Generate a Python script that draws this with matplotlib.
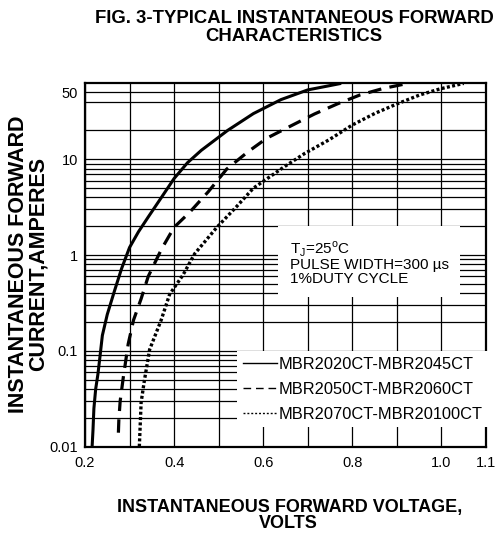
import matplotlib
matplotlib.use('Agg')
import matplotlib.pyplot as plt
from matplotlib.lines import Line2D
from matplotlib.ticker import FixedLocator, NullFormatter

plt.rcParams['font.family'] = ['Liberation Sans', 'DejaVu Sans']
plt.rcParams['mathtext.fontset'] = 'custom'
plt.rcParams['mathtext.rm'] = 'Liberation Sans'

# forward voltage (V) / forward current (A)
v_a = [0.216, 0.218, 0.220, 0.224, 0.229, 0.234, 0.239, 0.250, 0.266, 0.282, 0.300,
       0.320, 0.342, 0.370, 0.400, 0.430, 0.461, 0.520, 0.578, 0.640, 0.700, 0.775]
i_a = [0.010, 0.015, 0.025, 0.040, 0.057, 0.090, 0.145, 0.24, 0.42, 0.72, 1.2,
       1.75, 2.5, 3.9, 6.3, 9.2, 12.4, 20, 30, 42, 53, 62]

v_b = [0.275, 0.276, 0.279, 0.286, 0.297, 0.309, 0.326, 0.342, 0.372, 0.400, 0.435,
       0.477, 0.518, 0.566, 0.608, 0.662, 0.715, 0.766, 0.817, 0.870, 0.925]
i_b = [0.014, 0.019, 0.030, 0.053, 0.118, 0.21, 0.35, 0.60, 1.16, 1.95, 2.8,
       4.6, 7.9, 12, 16.6, 22.3, 29.7, 37.8, 46.9, 55, 62]

v_c = [0.322, 0.326, 0.333, 0.345, 0.371, 0.390, 0.420, 0.446, 0.496, 0.540, 0.578,
       0.648, 0.693, 0.748, 0.800, 0.851, 0.900, 0.951, 0.996, 1.050]
i_c = [0.010, 0.029, 0.048, 0.103, 0.21, 0.39, 0.62, 1.03, 1.95, 3.2, 5.0,
       8.4, 11.5, 16, 22.8, 30.2, 37.8, 46.9, 54.2, 62]

labels = ['MBR2020CT-MBR2045CT', 'MBR2050CT-MBR2060CT', 'MBR2070CT-MBR20100CT']

x_major = [0.2, 0.4, 0.6, 0.8, 1.0, 1.1]
x_major_lbl = ['0.2', '0.4', '0.6', '0.8', '1.0', '1.1']
x_minor = [0.3, 0.5, 0.7, 0.9]
y_major = [0.01, 0.1, 1, 10, 50]
y_major_lbl = ['0.01', '0.1', '1', '10', '50']
y_minor = [k * d for d in (0.01, 0.1, 1) for k in range(2, 10)] + [20, 40]

fig = plt.figure(figsize=(4.99, 5.33), dpi=100)
ax = fig.add_axes([0.1703, 0.1619, 0.8036, 0.6829])

ax.plot(v_a, i_a, color='black', lw=2.2, solid_capstyle='butt', zorder=2)
ax.plot(v_b, i_b, color='black', lw=2.3, ls=(0, (4.2, 2.6)), dash_capstyle='butt', zorder=2)
ax.plot(v_c, i_c, color='black', lw=2.4, ls=(0, (0.9, 0.7)), dash_capstyle='butt', zorder=2)

ax.set_yscale('log')
ax.set_xlim(0.2, 1.1)
ax.set_ylim(0.01, 63)

ax.xaxis.set_major_locator(FixedLocator(x_major))
ax.set_xticklabels(x_major_lbl)
ax.xaxis.set_minor_locator(FixedLocator(x_minor))
ax.yaxis.set_major_locator(FixedLocator(y_major))
ax.set_yticklabels(y_major_lbl)
ax.yaxis.set_minor_locator(FixedLocator(y_minor))
ax.yaxis.set_minor_formatter(NullFormatter())

ax.tick_params(which='both', length=0)
ax.tick_params(axis='x', labelsize=10.5, pad=7)
ax.tick_params(axis='y', labelsize=10.5, pad=5)
ax.set_axisbelow(True)
ax.grid(True, which='both', color='black', lw=0.9)
for s in ax.spines.values():
    s.set_linewidth(1.6)

ax.text(0.511, 0.570,
        'T$_{\\mathregular{J}}$=25$^{\\mathregular{o}}$C\nPULSE WIDTH=300 \u00b5s\n1%DUTY CYCLE',
        transform=ax.transAxes, ha='left', va='top', fontsize=11, linespacing=0.95,
        zorder=3, bbox=dict(boxstyle='square,pad=0.75', fc='white', ec='none'))

handles = [Line2D([], [], color='black', lw=1),
           Line2D([], [], color='black', lw=1, ls=(0, (5.5, 3.5))),
           Line2D([], [], color='black', lw=1, ls=(0, (1.4, 1.4)))]
leg = ax.legend(handles, labels, loc='upper left', bbox_to_anchor=(0.379, 0.262),
                fontsize=11.8, handlelength=2.1, handletextpad=0.1, labelspacing=0.6,
                borderpad=0.35, borderaxespad=0, frameon=True, fancybox=False,
                facecolor='white', edgecolor='none', framealpha=1)

fig.text(0.589, 0.956, 'FIG. 3-TYPICAL INSTANTANEOUS FORWARD', ha='center', va='baseline',
         fontsize=13.3, fontweight='bold')
fig.text(0.589, 0.924, 'CHARACTERISTICS', ha='center', va='baseline',
         fontsize=13.3, fontweight='bold')
fig.text(0.581, 0.0394, 'INSTANTANEOUS FORWARD VOLTAGE,', ha='center', va='baseline',
         fontsize=13, fontweight='bold')
fig.text(0.577, 0.0094, 'VOLTS', ha='center', va='baseline',
         fontsize=13, fontweight='bold')
fig.text(28.5 / 499, 1 - 264 / 533, 'INSTANTANEOUS FORWARD\nCURRENT,AMPERES',
         ha='center', va='center', multialignment='center', rotation=90,
         fontsize=15.5, fontweight='bold', linespacing=0.88)

fig.savefig('out.png', dpi=100)
